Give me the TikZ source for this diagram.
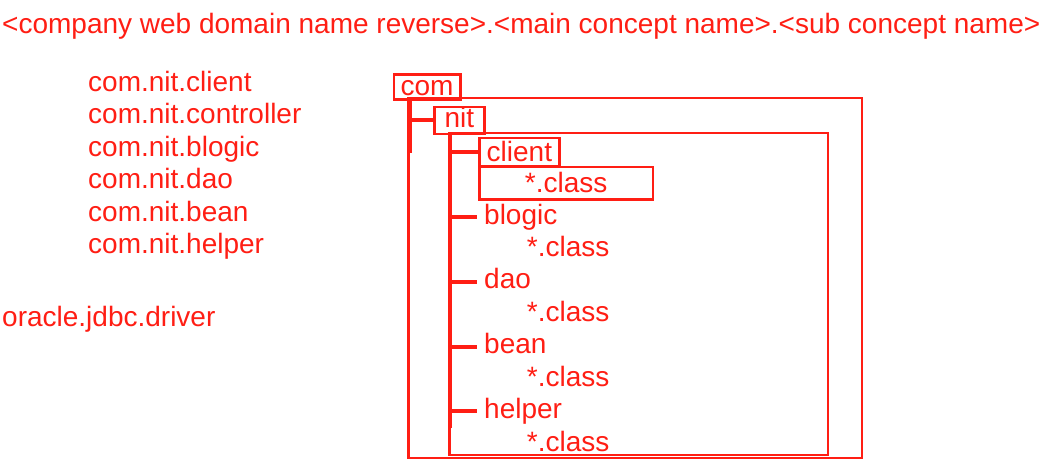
\documentclass[tikz,border=0pt]{standalone}
\usepackage{fontspec}
\setmainfont{Liberation Sans}
\usepackage{tikz}
\usepackage{xcolor}
\definecolor{pkgred}{RGB}{255,30,20}

\begin{document}
\begin{tikzpicture}[x=1pt,y=-1pt,
  font=\fontsize{28}{32}\selectfont, text=pkgred,
  txt/.style={anchor=base west,inner sep=0pt},
  leaf/.style={anchor=base west,inner xsep=7pt,inner ysep=0pt,text height=20pt,text depth=6pt},
  pkgbox/.style={draw=pkgred,line width=2.2pt,anchor=north west,inner sep=0pt},
  frame/.style={draw=pkgred,line width=2.4pt},
  tree/.style={draw=pkgred,line width=4pt}]
\useasboundingbox (0,0) rectangle (1061,466);
\node[txt] (title) at (2,33) {<company web domain name reverse>.<main concept name>.<sub concept name>};
\foreach \name [count=\i] in {client,controller,blogic,dao,bean,helper}
  \node[txt] (pkg\name) at (88,{91+32.5*(\i-1)}) {com.nit.\name};
\node[txt] (driver) at (2,326.7) {oracle.jdbc.driver};

% folders
\draw[frame] (408.5,98) rectangle (862,458);
\draw[frame] (449.5,133) rectangle (828,455);
\node[pkgbox,minimum width=66.6pt,text height=21pt,text depth=4pt] (com) at (392.7,73.3) {com};
\node[pkgbox,minimum width=50pt,text height=21pt,text depth=6pt] (nit) at (433.3,105.7) {nit};
\node[pkgbox,minimum width=80pt,text height=23.3pt,text depth=5pt] (client) at (478.3,136.7) {client};
\node[pkgbox,minimum width=173.4pt,text height=25pt,text depth=7.3pt] (clientcls) at (478.3,166) {*.class};

% tree
\coordinate (comroot) at (409.5,98);
\coordinate (comend) at (409.5,153);
\coordinate (nitroot) at (449.7,133);
\coordinate (nitend) at (449.7,428);
\draw[tree] (comroot) |- (nit.west);
\draw[tree] (comroot) -- (comend);
\draw[tree] (nitroot) |- (client.west);
\draw[tree] (nitroot) -- (nitend);
\foreach \pkg [count=\i] in {blogic,dao,bean,helper} {
  \node[leaf] (\pkg) at (477,{224+64.8*(\i-1)}) {\pkg};
  \node[txt] (\pkg cls) at (526.7,{256.7+64.8*(\i-1)}) {*.class};
  \draw[tree] (nitroot) |- (\pkg.west);
}
\end{tikzpicture}
\end{document}
